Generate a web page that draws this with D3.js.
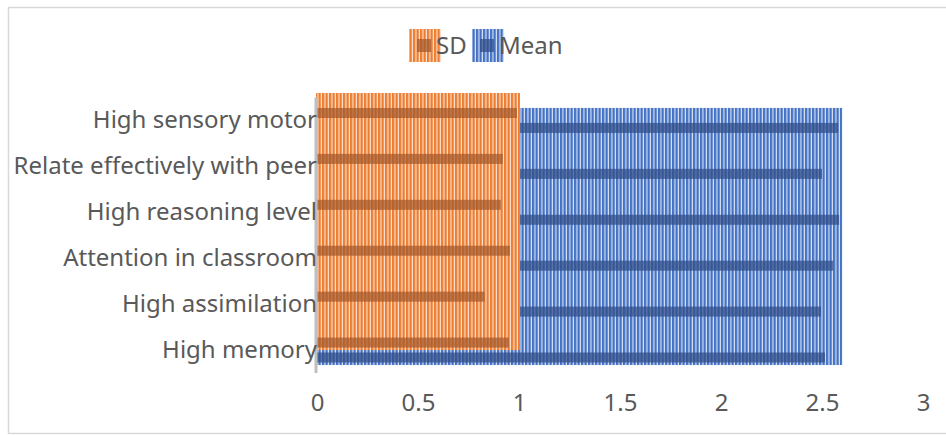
<!DOCTYPE html>
<html lang="en">

<head>
    <meta charset="UTF-8" />
    <title>SD and Mean (Bar Chart)</title>
    <script src="https://d3js.org/d3.v7.min.js"></script>
    <style>
        body {
            margin: 0;
            font-family: "Noto Sans", sans-serif;
            background: #fff;
        }

        .axis text {
            font-family: "Noto Sans", sans-serif;
            font-size: 24px;
            fill: #595959;
        }

        .legend text {
            font-family: "Noto Sans", sans-serif;
            font-size: 24px;
            fill: #595959;
        }
    </style>
</head>

<body>
    <div id="chart"></div>

    <script>
        // categories listed bottom to top, as in the chart
        const categories = ["High memory", "High assimilation", "Attention in classroom",
            "High reasoning level", "Relate effectively with peer", "High sensory motor"];
        const sdValues = [0.95, 0.83, 0.955, 0.91, 0.92, 0.99];
        const meanValues = [2.515, 2.495, 2.555, 2.585, 2.50, 2.58];
        const seriesNames = ["SD", "Mean"];
        const xTicks = [0, 0.5, 1, 1.5, 2, 2.5, 3];

        const width = 946, height = 435;

        const svg = d3.select("#chart")
            .append("svg")
            .attr("width", width)
            .attr("height", height);

        // stripe patterns
        const defs = svg.append("defs");
        function stripes(id, color, light) {
            const p = defs.append("pattern")
                .attr("id", id)
                .attr("patternUnits", "userSpaceOnUse")
                .attr("width", 3.5)
                .attr("height", 10);
            p.append("rect").attr("width", 3.5).attr("height", 10).attr("fill", light);
            p.append("rect").attr("width", 2.3).attr("height", 10).attr("fill", color);
        }
        stripes("orangeStripes", "#ed7d31", "#fbe3d2");
        stripes("blueStripes", "#4472c4", "#dae3f3");

        // chart border
        svg.append("rect")
            .attr("x", 8.5).attr("y", 7.5)
            .attr("width", 960).attr("height", 426)
            .attr("fill", "none")
            .attr("stroke", "#d9d9d9")
            .attr("stroke-width", 1.5);

        const x = d3.scaleLinear()
            .domain([0, 3])
            .range([317, 923]);

        const y = d3.scaleBand()
            .domain(categories.slice().reverse())
            .range([97.5, 373]);

        const ySub = d3.scaleBand()
            .domain(seriesNames)
            .range([0, y.bandwidth()])
            .paddingInner(0.33)
            .paddingOuter(0.7);

        const data = categories.map((c, i) => ({ cat: c, SD: sdValues[i], Mean: meanValues[i] }));
        const topCat = categories[categories.length - 1], bottomCat = categories[0];

        function region(series, patternId) {
            const maxV = d3.max(data, d => d[series]);
            const y0 = y(topCat) + ySub(series) - 15;
            const y1 = y(bottomCat) + ySub(series) + ySub.bandwidth() + 2.5;
            svg.append("rect")
                .attr("x", x(0) - 1)
                .attr("y", y0)
                .attr("width", x(maxV) - x(0) + 4)
                .attr("height", y1 - y0)
                .attr("fill", `url(#${patternId})`);
        }

        function bars(series, color) {
            svg.append("g")
                .selectAll("rect")
                .data(data)
                .enter().append("rect")
                .attr("x", x(0))
                .attr("y", d => y(d.cat) + ySub(series))
                .attr("width", d => x(d[series]) - x(0))
                .attr("height", ySub.bandwidth())
                .attr("fill", color)
                .attr("opacity", 0.72);
        }

        region("Mean", "blueStripes");
        bars("Mean", "#2f4c86");
        region("SD", "orangeStripes");
        bars("SD", "#a4582a");

        // vertical axis line
        svg.append("line")
            .attr("x1", x(0) - 1).attr("x2", x(0) - 1)
            .attr("y1", y.range()[0]).attr("y2", y.range()[1])
            .attr("stroke", "#bfbfbf")
            .attr("stroke-width", 3);

        // axes
        svg.append("g")
            .attr("class", "axis")
            .attr("transform", `translate(0,${y.range()[1]})`)
            .call(d3.axisBottom(x).tickValues(xTicks).tickFormat(d => d).tickSize(0).tickPadding(21))
            .call(g => g.select(".domain").remove());

        svg.append("g")
            .attr("class", "axis")
            .attr("transform", `translate(${x(0)},0)`)
            .call(d3.axisLeft(y).tickSize(0).tickPadding(0))
            .call(g => g.select(".domain").remove());

        // legend
        const legend = svg.append("g").attr("class", "legend");
        const legendItems = [
            { name: "SD", px: 409, pattern: "orangeStripes", dark: "#a4582a" },
            { name: "Mean", px: 472, pattern: "blueStripes", dark: "#2f4c86" }
        ];
        legendItems.forEach(it => {
            legend.append("rect")
                .attr("x", it.px).attr("y", 29)
                .attr("width", 32).attr("height", 33)
                .attr("fill", `url(#${it.pattern})`);
            legend.append("rect")
                .attr("x", it.px + 8).attr("y", 39)
                .attr("width", 14).attr("height", 13)
                .attr("fill", it.dark)
                .attr("opacity", 0.72);
            legend.append("text")
                .attr("x", it.px + 27)
                .attr("y", 54)
                .text(it.name);
        });
    </script>

</body>

</html>
